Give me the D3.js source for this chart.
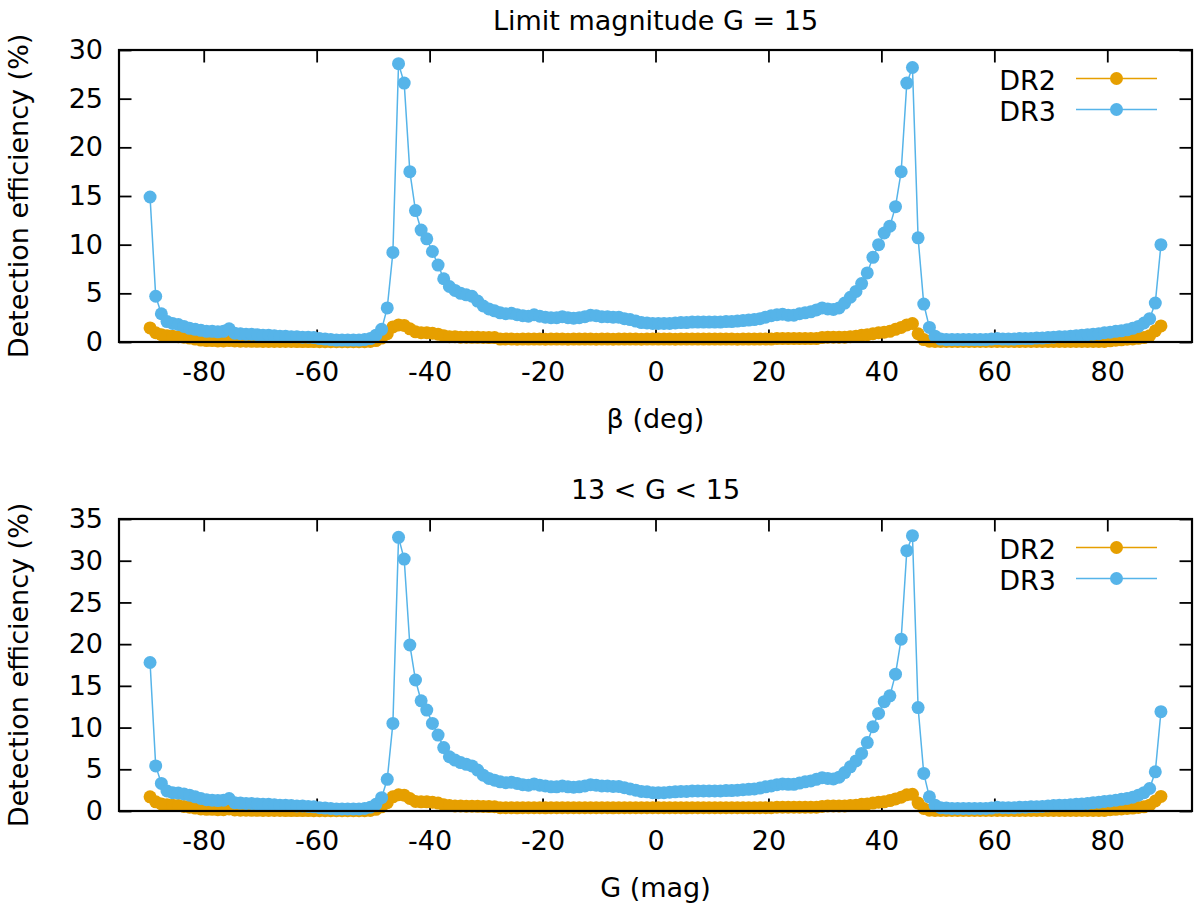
<!DOCTYPE html>
<html>
<head>
<meta charset="utf-8">
<script src="https://cdn.jsdelivr.net/npm/d3@7"></script>
<style>
  body { margin: 0; background: #fff; }
  svg { display: block; font-family: "DejaVu Sans", sans-serif; }
</style>
</head>
<body>
<svg id="chart" width="1200" height="910"></svg>
<script>
// bin centres (deg)
const beta = [
  -89.5,-88.5,-87.5,-86.5,-85.5,-84.5,-83.5,-82.5,-81.5,-80.5,
  -79.5,-78.5,-77.5,-76.5,-75.5,-74.5,-73.5,-72.5,-71.5,-70.5,
  -69.5,-68.5,-67.5,-66.5,-65.5,-64.5,-63.5,-62.5,-61.5,-60.5,
  -59.5,-58.5,-57.5,-56.5,-55.5,-54.5,-53.5,-52.5,-51.5,-50.5,
  -49.5,-48.5,-47.5,-46.5,-45.5,-44.5,-43.5,-42.5,-41.5,-40.5,
  -39.5,-38.5,-37.5,-36.5,-35.5,-34.5,-33.5,-32.5,-31.5,-30.5,
  -29.5,-28.5,-27.5,-26.5,-25.5,-24.5,-23.5,-22.5,-21.5,-20.5,
  -19.5,-18.5,-17.5,-16.5,-15.5,-14.5,-13.5,-12.5,-11.5,-10.5,
  -9.5,-8.5,-7.5,-6.5,-5.5,-4.5,-3.5,-2.5,-1.5,-0.5,
  0.5,1.5,2.5,3.5,4.5,5.5,6.5,7.5,8.5,9.5,
  10.5,11.5,12.5,13.5,14.5,15.5,16.5,17.5,18.5,19.5,
  20.5,21.5,22.5,23.5,24.5,25.5,26.5,27.5,28.5,29.5,
  30.5,31.5,32.5,33.5,34.5,35.5,36.5,37.5,38.5,39.5,
  40.5,41.5,42.5,43.5,44.5,45.5,46.5,47.5,48.5,49.5,
  50.5,51.5,52.5,53.5,54.5,55.5,56.5,57.5,58.5,59.5,
  60.5,61.5,62.5,63.5,64.5,65.5,66.5,67.5,68.5,69.5,
  70.5,71.5,72.5,73.5,74.5,75.5,76.5,77.5,78.5,79.5,
  80.5,81.5,82.5,83.5,84.5,85.5,86.5,87.5,88.5,89.5
];

// top panel: limit magnitude G = 15
const top_dr2 = [
  1.45,0.95,0.75,0.65,0.6,0.55,0.5,0.4,0.3,0.2,
  0.15,0.15,0.1,0.1,0.15,0.1,0.08,0.08,0.07,0.07,
  0.06,0.06,0.05,0.05,0.05,0.05,0.04,0.04,0.04,0.04,
  0.03,0.03,0.03,0.03,0.03,0.03,0.03,0.03,0.03,0.05,
  0.15,0.4,0.85,1.55,1.75,1.7,1.35,1.05,0.95,0.95,
  0.9,0.8,0.65,0.55,0.55,0.5,0.5,0.48,0.48,0.47,
  0.45,0.45,0.3,0.3,0.3,0.28,0.3,0.3,0.3,0.3,
  0.28,0.3,0.3,0.3,0.28,0.3,0.3,0.3,0.3,0.28,
  0.3,0.3,0.28,0.3,0.3,0.3,0.3,0.28,0.3,0.3,
  0.3,0.3,0.3,0.28,0.3,0.3,0.3,0.3,0.3,0.3,
  0.3,0.3,0.3,0.3,0.28,0.3,0.3,0.3,0.3,0.3,
  0.3,0.35,0.35,0.35,0.35,0.35,0.35,0.35,0.35,0.45,
  0.5,0.5,0.5,0.5,0.55,0.6,0.7,0.75,0.85,0.95,
  1.0,1.1,1.3,1.5,1.75,1.9,0.85,0.25,0.08,0.05,
  0.05,0.05,0.05,0.05,0.05,0.05,0.05,0.05,0.05,0.05,
  0.05,0.05,0.05,0.05,0.05,0.05,0.05,0.05,0.05,0.05,
  0.05,0.05,0.05,0.05,0.05,0.05,0.05,0.05,0.05,0.05,
  0.12,0.18,0.22,0.28,0.32,0.38,0.45,0.65,1.15,1.65
];
const top_dr3 = [
  14.9,4.7,2.9,2.1,1.9,1.8,1.6,1.4,1.3,1.2,
  1.1,1.1,1.05,1.1,1.35,0.9,0.85,0.8,0.8,0.75,
  0.7,0.7,0.65,0.6,0.6,0.55,0.55,0.5,0.5,0.45,
  0.35,0.3,0.25,0.2,0.2,0.2,0.2,0.2,0.25,0.35,
  0.7,1.3,3.5,9.2,28.6,26.6,17.5,13.5,11.5,10.6,
  9.3,7.9,6.5,5.7,5.3,5.0,4.85,4.7,4.2,3.7,
  3.4,3.2,3.0,2.9,2.95,2.8,2.7,2.65,2.8,2.65,
  2.55,2.5,2.5,2.6,2.5,2.45,2.5,2.6,2.75,2.7,
  2.6,2.6,2.55,2.55,2.4,2.3,2.15,2.0,1.95,1.9,
  1.9,1.9,1.9,1.95,2.0,2.0,2.05,2.05,2.05,2.05,
  2.05,2.05,2.1,2.1,2.15,2.2,2.25,2.3,2.4,2.55,
  2.7,2.8,2.85,2.75,2.75,2.9,3.0,3.1,3.3,3.5,
  3.4,3.35,3.5,4.0,4.6,5.2,6.0,7.1,8.7,10.0,
  11.2,11.9,13.9,17.5,26.6,28.2,10.7,3.9,1.5,0.6,
  0.3,0.25,0.25,0.25,0.25,0.25,0.25,0.25,0.25,0.3,
  0.35,0.3,0.3,0.3,0.35,0.35,0.35,0.4,0.4,0.45,
  0.5,0.55,0.55,0.6,0.65,0.7,0.75,0.8,0.85,0.95,
  1.0,1.1,1.15,1.25,1.4,1.6,1.95,2.4,4.0,10.0
];

// bottom panel: 13 < G < 15
const bot_dr2 = [
  1.7,1.1,0.85,0.75,0.7,0.65,0.55,0.45,0.35,0.25,
  0.2,0.2,0.15,0.15,0.25,0.12,0.1,0.1,0.08,0.08,
  0.07,0.07,0.06,0.06,0.05,0.05,0.05,0.05,0.05,0.04,
  0.04,0.04,0.04,0.04,0.04,0.04,0.04,0.04,0.04,0.06,
  0.2,0.5,1.0,1.7,1.95,1.9,1.5,1.15,1.1,1.1,
  1.05,0.95,0.75,0.65,0.6,0.6,0.58,0.58,0.56,0.55,
  0.53,0.52,0.4,0.4,0.4,0.38,0.4,0.4,0.4,0.4,
  0.38,0.4,0.4,0.4,0.4,0.4,0.4,0.4,0.4,0.4,
  0.4,0.4,0.38,0.4,0.4,0.4,0.4,0.4,0.4,0.4,
  0.4,0.4,0.4,0.4,0.4,0.38,0.4,0.4,0.4,0.4,
  0.4,0.4,0.4,0.4,0.4,0.4,0.4,0.4,0.4,0.4,
  0.4,0.45,0.45,0.45,0.45,0.45,0.45,0.45,0.45,0.55,
  0.6,0.6,0.6,0.6,0.65,0.7,0.8,0.85,0.95,1.05,
  1.1,1.25,1.45,1.65,1.95,2.0,0.95,0.3,0.1,0.06,
  0.06,0.06,0.06,0.06,0.06,0.06,0.06,0.06,0.06,0.06,
  0.06,0.06,0.06,0.06,0.06,0.06,0.06,0.06,0.06,0.06,
  0.06,0.06,0.06,0.06,0.06,0.06,0.06,0.06,0.06,0.06,
  0.15,0.2,0.25,0.3,0.35,0.42,0.5,0.7,1.2,1.75
];
const bot_dr3 = [
  17.8,5.4,3.3,2.4,2.2,2.15,2.05,1.9,1.7,1.5,
  1.35,1.3,1.25,1.3,1.5,1.0,0.95,0.9,0.9,0.85,
  0.8,0.8,0.75,0.7,0.7,0.65,0.6,0.6,0.55,0.5,
  0.4,0.35,0.3,0.25,0.25,0.25,0.25,0.25,0.3,0.45,
  0.8,1.6,3.8,10.5,32.8,30.2,19.9,15.7,13.2,12.1,
  10.5,9.1,7.6,6.5,6.1,5.8,5.6,5.4,4.9,4.3,
  3.9,3.7,3.5,3.4,3.45,3.3,3.15,3.1,3.25,3.1,
  3.0,2.9,2.9,3.0,2.9,2.85,2.9,3.0,3.15,3.1,
  3.0,3.0,2.95,2.95,2.8,2.65,2.5,2.35,2.3,2.2,
  2.2,2.2,2.25,2.3,2.35,2.35,2.4,2.4,2.4,2.4,
  2.4,2.4,2.45,2.45,2.5,2.55,2.6,2.65,2.75,2.9,
  3.0,3.15,3.25,3.2,3.2,3.35,3.5,3.6,3.8,4.0,
  3.9,3.85,4.05,4.6,5.3,6.0,6.9,8.2,10.1,11.7,
  13.1,13.8,16.4,20.6,31.2,33.0,12.4,4.5,1.7,0.7,
  0.4,0.35,0.3,0.3,0.3,0.3,0.3,0.3,0.3,0.35,
  0.45,0.4,0.4,0.4,0.45,0.45,0.5,0.5,0.55,0.6,
  0.65,0.7,0.7,0.75,0.8,0.85,0.9,1.0,1.05,1.15,
  1.2,1.3,1.4,1.5,1.65,1.9,2.2,2.7,4.7,11.9
];

const xTicks = [-80, -60, -40, -20, 0, 20, 40, 60, 80];
const seriesNames = ["DR2", "DR3"];
const seriesColors = ["#e69f00", "#56b4e9"];

const panels = [
  { title: "Limit magnitude G = 15", xlabel: "β (deg)", series: [top_dr2, top_dr3],
    yMax: 30, top: 50, bottom: 342 },
  { title: "13 < G < 15", xlabel: "G (mag)", series: [bot_dr2, bot_dr3],
    yMax: 35, top: 519, bottom: 811 }
];

const svg = d3.select("#chart");
const left = 119, right = 1192;
const fontSize = 27;
const dotR = 6.5;

const x = d3.scaleLinear().domain([-95, 95]).range([left, right]);
// plain hyphen for negatives, like gnuplot
const fmt = d => String(d);

panels.forEach(p => {
  const y = d3.scaleLinear().domain([0, p.yMax]).range([p.bottom, p.top]);
  const g = svg.append("g");

  // ticks (inward, mirrored) go under the data
  const bottomAxis = g.append("g")
      .attr("transform", `translate(0,${p.bottom})`)
      .call(d3.axisBottom(x).tickValues(xTicks).tickSize(-12.5).tickPadding(20).tickFormat(fmt));
  const topAxis = g.append("g")
      .attr("transform", `translate(0,${p.top})`)
      .call(d3.axisTop(x).tickValues(xTicks).tickSize(-12.5).tickFormat(""));
  const leftAxis = g.append("g")
      .attr("transform", `translate(${left},0)`)
      .call(d3.axisLeft(y).ticks(p.yMax / 5).tickSize(-12.5).tickPadding(16).tickFormat(fmt));
  const rightAxis = g.append("g")
      .attr("transform", `translate(${right},0)`)
      .call(d3.axisRight(y).ticks(p.yMax / 5).tickSize(-12.5).tickFormat(""));

  [bottomAxis, topAxis, leftAxis, rightAxis].forEach(a => {
    a.select(".domain").remove();
    a.attr("font-family", null).attr("font-size", null);
    a.selectAll("line").attr("stroke", "#000").attr("stroke-width", 1.8);
    a.selectAll("text").attr("fill", "#000").style("font-size", fontSize + "px");
  });

  // data: DR2 first, DR3 on top
  p.series.forEach((vals, si) => {
    const pts = beta.map((b, i) => [b, vals[i]]);
    const line = d3.line().x(d => x(d[0])).y(d => y(d[1]));
    g.append("path")
        .datum(pts)
        .attr("fill", "none")
        .attr("stroke", seriesColors[si])
        .attr("stroke-width", 1.5)
        .attr("d", line);
    g.append("g")
      .selectAll("circle")
      .data(pts)
      .join("circle")
        .attr("cx", d => x(d[0]))
        .attr("cy", d => y(d[1]))
        .attr("r", dotR)
        .attr("fill", seriesColors[si]);
  });

  // frame drawn over the data
  g.append("rect")
      .attr("x", left)
      .attr("y", p.top)
      .attr("width", right - left)
      .attr("height", p.bottom - p.top)
      .attr("fill", "none")
      .attr("stroke", "#000")
      .attr("stroke-width", 2.2);

  // legend
  seriesNames.forEach((name, si) => {
    const ly = p.top + 28.5 + si * 31;
    g.append("text")
        .attr("x", 1056)
        .attr("y", ly + 11)
        .attr("text-anchor", "end")
        .style("font-size", fontSize + "px")
        .text(name);
    g.append("line")
        .attr("x1", 1076).attr("x2", 1157)
        .attr("y1", ly).attr("y2", ly)
        .attr("stroke", seriesColors[si])
        .attr("stroke-width", 1.5);
    g.append("circle")
        .attr("cx", 1116.5).attr("cy", ly)
        .attr("r", dotR)
        .attr("fill", seriesColors[si]);
  });

  // titles and axis labels
  g.append("text")
      .attr("x", (left + right) / 2)
      .attr("y", p.top - 20)
      .attr("text-anchor", "middle")
      .style("font-size", fontSize + "px")
      .text(p.title);
  g.append("text")
      .attr("x", (left + right) / 2)
      .attr("y", p.bottom + 86)
      .attr("text-anchor", "middle")
      .style("font-size", fontSize + "px")
      .text(p.xlabel);
  g.append("text")
      .attr("transform", `translate(28,${(p.top + p.bottom) / 2}) rotate(-90)`)
      .attr("text-anchor", "middle")
      .style("font-size", fontSize + "px")
      .text("Detection efficiency (%)");
});
</script>
</body>
</html>
